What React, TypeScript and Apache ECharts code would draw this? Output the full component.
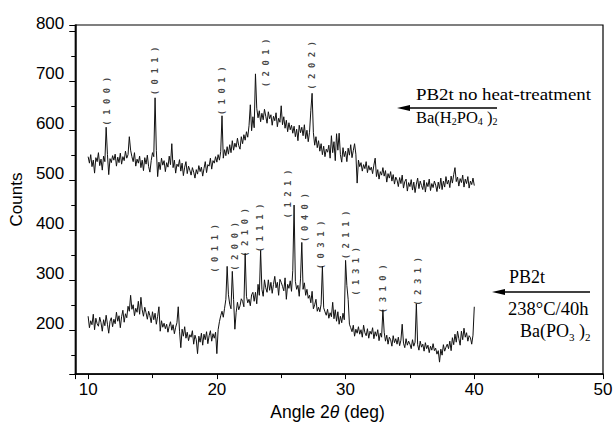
import { useEffect, useRef } from 'react';
import * as echarts from 'echarts';

// XRD scan: 2θ from 10.0° to 40.0°, step 0.1°
const ANGLE_START = 10;
const ANGLE_STEP = 0.1;

// PB2t no heat-treatment, Ba(H2PO4)2 (one row per degree: x.0 ... x.9)
const upperCounts = [
  548, 535, 552, 528, 541, 515, 546, 538, 556, 530,
  543, 521, 549, 538, 607, 552, 512, 544, 536, 550,
  541, 553, 529, 547, 536, 555, 533, 548, 540, 559,
  545, 552, 588, 561, 548, 538, 556, 529, 543, 535,
  549, 526, 541, 520, 546, 533, 551, 528, 517, 540,
  556, 548, 666, 560, 508, 537, 522, 545, 531, 540,
  518, 536, 527, 549, 532, 574, 526, 541, 515, 533,
  528, 542, 519, 535, 510, 527, 538, 514, 529, 521,
  511, 526, 517, 505, 522, 513, 530, 518, 527, 509,
  524, 538, 516, 532, 529, 545, 523, 540, 535, 548,
  537, 552, 541, 558, 630, 545, 562, 550, 568, 553,
  572, 556, 580, 561, 575, 567, 585, 570, 563, 588,
  574, 592, 581, 598, 587, 610, 652, 600, 628, 606,
  714, 645, 626, 640, 618, 635, 622, 643, 629, 615,
  638, 624, 632, 611, 629, 620, 636, 608, 625, 617,
  650, 612, 628, 605, 621, 598, 616, 602, 611, 595,
  609, 588, 603, 580, 611, 596, 607, 590, 612, 584,
  601, 578, 597, 640, 675, 596, 571, 588, 566, 580,
  559, 574, 552, 569, 548, 563, 557, 571, 545, 590,
  556, 578, 540, 594, 561, 595, 552, 537, 566, 548,
  559, 538, 565, 551, 572, 546, 560, 574, 553, 495,
  541, 528, 536, 519, 532, 524, 538, 516, 530, 521,
  527, 514, 531, 545, 508, 522, 503, 518, 511, 526,
  509, 520, 497, 514, 505, 518, 499, 512, 493, 507,
  501, 488, 506, 494, 511, 485, 498, 503, 479, 496,
  488, 502, 481, 497, 476, 493, 505, 484, 499, 490,
  482, 501, 477, 496, 488, 503, 480, 494, 486, 499,
  491, 478, 497, 484, 505, 482, 499, 487, 508, 493,
  501, 486, 509, 495, 512, 526, 498, 507, 489, 504,
  496, 511, 487, 503, 494, 508, 485, 499, 492, 505,
  490,
];

// PB2t 238°C/40h, Ba(PO3)2
const lowerCounts = [
  228, 205, 219, 211, 232, 201, 224, 213, 208, 226,
  215, 198, 221, 209, 230, 212, 194, 218, 225, 207,
  222, 213, 236, 218, 229, 205, 227, 240, 216, 233,
  225, 248, 238, 270, 242, 251, 229, 244, 236, 258,
  232, 266, 241, 228, 246, 235, 222, 238, 229, 215,
  237, 221, 234, 212, 228, 247, 198, 219, 206, 214,
  203, 212, 196, 208, 217, 200, 211, 193, 206, 215,
  247, 198, 165, 202, 188, 207, 184, 196, 179, 191,
  186, 199, 172, 190, 181, 153, 188, 176, 194, 170,
  192, 181, 197, 173, 189, 199, 178, 193, 184, 196,
  153, 201, 217, 229, 238, 226, 244, 262, 328, 271,
  252, 243, 318, 262, 202, 236, 256, 241, 249, 263,
  258, 247, 354, 268, 255, 262, 249, 271, 276, 258,
  276, 253, 292, 270, 360, 282, 268, 301, 285, 276,
  301, 280, 296, 274, 292, 308, 285, 296, 270, 302,
  296, 288, 279, 305, 262, 292, 284, 299, 278, 320,
  451, 298, 282, 290, 268, 303, 376, 282, 295, 270,
  282, 264, 270, 255, 278, 243, 251, 262, 238, 246,
  237, 252, 328, 245, 237, 230, 242, 224, 235, 227,
  256, 223, 241, 218, 237, 212, 228, 215, 234, 221,
  340, 290, 262, 212, 205, 197, 210, 188, 202, 194,
  207, 192, 201, 186, 210, 195, 189, 203, 184, 198,
  192, 205, 183, 197, 188, 201, 179, 194, 186, 241,
  196, 178, 190, 172, 186, 181, 168, 189, 175, 183,
  172, 186, 169, 180, 212, 174, 165, 183, 170, 178,
  172, 163, 181, 168, 176, 253, 171, 160, 178, 166,
  172, 158, 175, 163, 170, 155, 168, 160, 173, 159,
  164, 152, 159, 136, 162, 150, 171, 158, 166, 172,
  163, 178, 159, 185, 171, 192, 176, 198, 183, 170,
  198, 181, 204, 186, 195, 178, 189, 185, 172, 190,
  247,
];

// Miller-index labels (text, angle, count at label centre)
const upperHklText = ['( 1 0 0 )', '( 0 1 1 )', '( 1 0 1 )', '( 2 0 1 )', '( 2 0 2 )'];
const upperHklAngle = [11.44, 15.22, 20.4, 23.8, 27.43];
const upperHklCount = [659, 720, 680, 736, 731];

const lowerHklText = ['( 0 1 1 )', '( 2 0 0 )', '( 2 1 0 )', '( 1 1 1 )', '( 1 2 1 )', '( 0 4 0 )', '( 0 3 1 )', '( 2 1 1 )', '( 1 3 1 )', '( 3 1 0 )', '( 2 3 1 )'];
const lowerHklAngle = [19.86, 21.41, 22.22, 23.38, 25.5, 26.82, 28.13, 30.06, 30.83, 32.92, 35.62];
const lowerHklCount = [364, 368, 396, 405, 473, 426, 371, 391, 318, 283, 298];

const SANS = '"Liberation Sans", Arial, sans-serif';
const SERIF = '"Liberation Serif", "Times New Roman", serif';
const MONO = '"DejaVu Sans Mono", monospace';

const toPairs = (counts: number[]) =>
  counts.map((c, i) => [+(ANGLE_START + i * ANGLE_STEP).toFixed(2), c]);

const hklData = (txt: string[], ang: number[], cnt: number[]) =>
  txt.map((t, i) => ({ name: t, value: [ang[i], cnt[i]] }));

export default function App() {
  const ref = useRef<HTMLDivElement>(null);
  useEffect(() => {
    if (!ref.current) return;
    const chart = echarts.init(ref.current, null, { renderer: 'svg' });
    const hklLabel = {
      show: true,
      position: 'inside',
      rotate: 90,
      formatter: '{b}',
      fontFamily: MONO,
      fontSize: 9,
      fontWeight: 'bold',
      color: '#111',
    };
    const option: any = {
      animation: false,
      backgroundColor: '#ffffff',
      grid: {
        left: 72.5,
        right: 13,
        top: 25,
        bottom: 42,
        show: true,
        borderColor: '#000',
        borderWidth: 1.2,
        backgroundColor: 'transparent',
      },
      xAxis: {
        type: 'value',
        min: 9,
        max: 50,
        name: 'Angle 2{i|θ} (deg)',
        nameLocation: 'middle',
        nameGap: 20,
        nameTextStyle: {
          fontFamily: SANS,
          fontSize: 17.5,
          color: '#000',
          padding: [0, 23, 0, 0],
          rich: { i: { fontFamily: SANS, fontSize: 17.5, fontStyle: 'italic', color: '#000' } },
        },
        axisLine: { show: true, onZero: false, lineStyle: { color: '#000', width: 1.5 } },
        axisTick: { show: true, length: 5, lineStyle: { color: '#000', width: 1 } },
        minorTick: { show: true, splitNumber: 2, length: 4, lineStyle: { color: '#000', width: 1 } },
        axisLabel: { showMinLabel: false, color: '#000', fontSize: 17, fontFamily: SANS, margin: 7 },
        splitLine: { show: false },
        minorSplitLine: { show: false },
      },
      yAxis: {
        type: 'value',
        min: 112,
        max: 812,
        name: 'Counts',
        nameLocation: 'middle',
        nameGap: 47,
        nameTextStyle: { fontFamily: SANS, fontSize: 17, color: '#000' },
        axisLine: { show: true, onZero: false, lineStyle: { color: '#000', width: 1.5 } },
        axisTick: { show: true, length: 6, lineStyle: { color: '#000', width: 1 } },
        minorTick: { show: true, splitNumber: 2, length: 4, lineStyle: { color: '#000', width: 1 } },
        axisLabel: {
          showMinLabel: false,
          showMaxLabel: false,
          color: '#000',
          fontSize: 17,
          fontFamily: SANS,
          margin: 11,
          verticalAlign: 'bottom',
          lineHeight: 14,
        },
        splitLine: { show: false },
        minorSplitLine: { show: false },
      },
      series: [
        {
          type: 'line',
          data: toPairs(upperCounts),
          showSymbol: false,
          silent: true,
          lineStyle: { color: '#111', width: 1 },
        },
        {
          type: 'line',
          data: toPairs(lowerCounts),
          showSymbol: false,
          silent: true,
          lineStyle: { color: '#111', width: 1 },
        },
        {
          type: 'scatter',
          data: hklData(upperHklText, upperHklAngle, upperHklCount),
          symbolSize: 0,
          silent: true,
          label: hklLabel,
        },
        {
          type: 'scatter',
          data: hklData(lowerHklText, lowerHklAngle, lowerHklCount),
          symbolSize: 0,
          silent: true,
          label: hklLabel,
        },
      ],
      graphic: [
        {
          type: 'text',
          x: 416,
          y: 94.5,
          scaleX: 1.18,
          style: {
            text: 'PB2t no heat-treatment',
            fontFamily: SERIF,
            fontSize: 16,
            fill: '#000',
            align: 'left',
            verticalAlign: 'middle',
          },
        },
        {
          type: 'line',
          shape: { x1: 408, y1: 108, x2: 497, y2: 108 },
          style: { stroke: '#000', lineWidth: 1.3 },
        },
        {
          type: 'polygon',
          shape: { points: [[397, 108], [410, 105], [410, 111]] },
          style: { fill: '#000' },
        },
        {
          type: 'text',
          x: 416,
          y: 108.5,
          style: {
            text: '{n|Ba(H}{s|2}{n|PO}{s|4}{n| )}{s|2}',
            align: 'left',
            verticalAlign: 'top',
            rich: {
              n: { fontFamily: SERIF, fontSize: 16.5, lineHeight: 18, verticalAlign: 'top', fill: '#000' },
              s: { fontFamily: SERIF, fontSize: 10, lineHeight: 4, verticalAlign: 'bottom', fill: '#000' },
            },
          },
        },
        {
          type: 'text',
          x: 509,
          y: 277,
          style: {
            text: 'PB2t',
            fontFamily: SERIF,
            fontSize: 18,
            fill: '#000',
            align: 'left',
            verticalAlign: 'middle',
          },
        },
        {
          type: 'line',
          shape: { x1: 503, y1: 292, x2: 590, y2: 292 },
          style: { stroke: '#000', lineWidth: 1.3 },
        },
        {
          type: 'polygon',
          shape: { points: [[492, 292], [505, 289], [505, 295]] },
          style: { fill: '#000' },
        },
        {
          type: 'text',
          x: 508,
          y: 308.5,
          style: {
            text: '238°C/40h',
            fontFamily: SERIF,
            fontSize: 18.5,
            fill: '#000',
            align: 'left',
            verticalAlign: 'middle',
          },
        },
        {
          type: 'text',
          x: 520,
          y: 322,
          style: {
            text: '{n|Ba(PO}{s|3}{n| )}{s|2}',
            align: 'left',
            verticalAlign: 'top',
            rich: {
              n: { fontFamily: SERIF, fontSize: 18, lineHeight: 20, verticalAlign: 'top', fill: '#000' },
              s: { fontFamily: SERIF, fontSize: 11, lineHeight: 2, verticalAlign: 'bottom', fill: '#000' },
            },
          },
        },
      ],
    };
    chart.setOption(option);
    return () => chart.dispose();
  }, []);
  return (
    <div
      ref={ref}
      style={{ position: 'fixed', left: 0, top: 0, width: 616, height: 426, background: '#fff' }}
    />
  );
}
